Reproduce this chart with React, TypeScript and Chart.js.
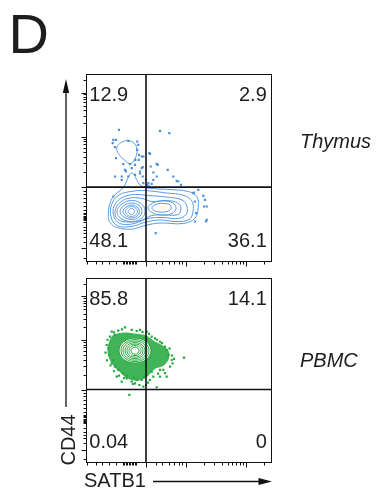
import React, { useEffect, useRef } from "react";
import { Chart, registerables } from "chart.js";

Chart.register(...registerables);

type Pt = [number, number];

// Transformed channel ranges (display units) shared by both panels
const X_MIN = 0;
const X_MAX = 185.5;
const Y_MIN = 0;
const Y_MAX = 187.5;

// Quadrant gate (SATB1 / CD44)
const gateSATB1 = 60;
const gateCD44 = 74.4;

// Quadrant frequencies (%): upper-left, upper-right, lower-left, lower-right
const thymusFreq = [12.9, 2.9, 48.1, 36.1];
const pbmcFreq = [85.8, 14.1, 0.04, 0];

const tissueNames = ["Thymus", "PBMC"];
const xAxisTitle = "SATB1";
const yAxisTitle = "CD44";
const panelLetter = "D";

// Axis tick positions
const satb1MajorTicks = [59.7, 99.7, 159.7];
const satb1MinorTicks = [
  1.3, 9.7, 16.3, 23, 29.7, 36.5, 38, 39.5, 41, 42.5, 44, 45.5, 47, 48.5, 50,
  69.7, 76.3, 83, 88, 93, 96.3, 117.7, 128.3, 135.8, 141.6, 146.4, 150.4, 153.9,
  157, 177.7,
];
const cd44MajorTicks = [13.4, 74.4, 125, 169];
const cd44MinorTicks = [
  3.5, 20, 25, 28.4, 31.7, 35, 40, 41.2, 42.4, 43.6, 44.8, 46, 47.2, 48.4, 52, 56,
  60, 64, 68, 71, 89.6, 98.5, 104.9, 109.8, 113.8, 117.2, 120.1, 122.7, 138.2,
  146, 151.5, 155.8, 159.2, 162.2, 164.7, 167, 182,
];

// Thymus: outlier events
const thymusEvents: Pt[] = [
  [33, 131.7], [27.3, 121.7], [26.7, 118.4], [29, 114.4], [30, 121.7], [42.3, 120.7],
  [51.3, 120], [52.3, 116.7], [51.3, 111.7], [53, 106.7], [52.7, 101.7], [49.3, 101.7],
  [30, 103.4], [74, 130.7], [83.3, 128.4], [63.3, 108.4], [71.7, 96.7], [64.7, 95],
  [56.7, 94.4], [54, 90], [45.7, 93.4], [39, 91.7], [35.7, 85], [29, 85], [42.3, 85],
  [49, 86.7], [56.7, 85], [60, 81.7], [61.3, 76.7], [57.3, 78.4], [67.3, 81.7],
  [70.7, 85], [81.7, 91.7], [87.3, 85], [90.7, 80.7], [63.3, 75], [27.3, 65],
  [112.3, 71.7], [107.3, 68.4], [117.3, 65.7], [119, 61.7], [109, 60], [120.7, 55],
  [110, 48.4], [120, 40], [109, 40], [69.7, 28.4], [44, 97.4], [37.3, 97.4],
  [55.7, 105], [64, 107.7], [70.7, 97.7], [67.3, 89], [92.3, 80], [95, 76.7],
  [108, 69], [118, 55], [120.7, 41.7], [62.3, 78.4], [65.7, 77.7], [40, 90],
  [35.7, 81.7], [49, 96.7], [55.7, 93.4], [57.3, 105], [54, 88],
];

// Thymus: density contours (closed loops)
const thymusContours: Pt[][] = [
  [[22.3, 45], [24, 58.4], [29, 66.7], [37.3, 74], [45.7, 88.4], [54, 76.7], [62.3, 73.4], [84, 72], [102.3, 70], [110.7, 65], [112.3, 55], [109, 43.4], [97.3, 38], [74, 38.5], [59, 36], [45.7, 32.4], [30.7, 34], [24, 39]],
  [[24.5, 48], [27, 60], [34, 67], [45, 70], [57.3, 71], [80.7, 68.5], [98, 66], [106, 60], [107, 50], [103, 42], [90, 40], [74, 41.5], [60, 39.5], [45, 35], [30, 36.5]],
  [[27, 50], [31, 60], [40, 65.5], [52, 67], [62, 66], [80, 64.5], [96, 61.5], [101, 55], [100, 47], [92, 43], [77, 44], [62, 43], [46, 37.5], [32, 39]],
  [[29, 50], [34, 59], [44, 63.5], [56, 63], [66, 60], [80, 61], [92, 58.5], [95, 53], [92, 47], [80, 46.5], [66, 46], [55, 41], [43, 39.5], [32, 42]],
  [[31, 50], [36, 57.5], [45.5, 61], [55, 58], [59, 51], [56, 43.5], [46, 40], [35, 43]],
  [[34, 50], [38, 56], [45.5, 58.5], [53, 56], [56, 50], [53, 44.5], [45.5, 42], [38, 44.5]],
  [[37, 50], [40, 54.5], [45.5, 56.5], [51, 54.5], [53.5, 50], [51, 45.5], [45.5, 43.5], [40, 45.5]],
  [[39.5, 50], [41.5, 53.5], [45.5, 55], [49.5, 53.5], [51.5, 50], [49.5, 46.5], [45.5, 45], [41.5, 46.5]],
  [[42, 50], [43.5, 52.3], [45.5, 53.2], [47.5, 52.3], [48.5, 50], [47.5, 47.7], [45.5, 46.8], [43.5, 47.7]],
  [[62, 54], [68, 59], [78, 60.5], [87, 58.5], [90, 53], [86, 48], [76, 46.5], [66, 49]],
  [[66, 54], [71, 57.5], [78, 58], [84, 56.5], [85, 52.5], [81, 50], [74, 49.5], [68, 51]],
  [[32.3, 116.7], [37.3, 120], [42.3, 121], [48, 118.4], [50.7, 113.4], [50, 105], [44.7, 97.7], [39, 101], [33.3, 106.7], [30.7, 112.4]],
];

// PBMC: outlier events
const pbmcEvents: Pt[] = [
  [25.7, 133.2], [39, 137.6], [24, 128.1], [20.7, 119.7], [23.3, 109.5], [25.7, 101.1],
  [29, 97.6], [32.3, 94.3], [37.3, 90.9], [40.7, 85.8], [45.7, 82.4], [49, 80.7],
  [53.3, 79], [55.7, 84.1], [60, 79], [64, 84.1], [70.7, 76.7], [67.3, 87.5], [74, 87.5],
  [80.7, 87.5], [77.3, 94.3], [84, 97.6], [85.7, 104.4], [98, 106.8], [80.7, 114.6],
  [74, 123], [69, 126.5], [60.7, 133.2], [54, 135], [45.7, 135], [32.3, 134.2],
  [43.3, 68.9], [30.7, 87.5], [35.7, 82.4], [22.3, 116.3], [27.3, 104.4], [40.7, 88.2],
  [65.7, 92.5], [74, 94.3], [82.3, 109.5], [79, 118], [65.7, 128.1], [50.7, 133.9],
  [29, 129.9], [57.3, 77.3], [50.7, 84.1], [19.5, 112], [21, 104], [24.5, 99],
  [28, 93], [33, 88.5], [38, 86], [47, 80], [62, 81.5], [72, 90.5], [79, 91],
  [86.5, 101], [86, 109], [83.5, 116], [76, 121.5], [71, 125], [63, 131], [56.5, 133],
  [36, 135.5], [28, 132.5], [21.5, 125], [88, 105.5], [58, 87], [48, 86.5],
];

// PBMC: dense event region surrounding the contours
const pbmcDenseRegion: Pt[] = [
  [21.5, 114.6], [23, 122.5], [26.5, 129], [32.3, 131.5], [40.7, 132.5], [50.7, 131],
  [60.7, 129.2], [68.5, 123.5], [76.5, 119.2], [83, 112.9], [82.5, 104.8], [76.8, 98.2],
  [68.5, 95], [60.5, 86.8], [52.3, 83.4], [42.5, 85], [34.5, 91.5], [28, 98],
  [23, 106.2],
];

// PBMC: density contours (closed loops, outermost first)
const pbmcContours: Pt[][] = [
  [[65, 114], [60.3, 123], [49, 126.7], [37.7, 123], [33, 114], [37.7, 105], [49, 101.3], [60.3, 105]],
  [[63, 114], [58.9, 121.9], [49, 125.2], [39.1, 121.9], [35, 114], [39.1, 106.1], [49, 102.8], [58.9, 106.1]],
  [[61, 114], [57.5, 120.9], [49, 123.7], [40.5, 120.9], [37, 114], [40.5, 107.1], [49, 104.3], [57.5, 107.1]],
  [[59, 114], [56.1, 119.7], [49, 122.1], [41.9, 119.7], [39, 114], [41.9, 108.3], [49, 105.9], [56.1, 108.3]],
  [[57, 114], [54.7, 118.7], [49, 120.6], [43.3, 118.7], [41, 114], [43.3, 109.3], [49, 107.4], [54.7, 109.3]],
  [[55, 114], [53.2, 117.6], [49, 119.1], [44.8, 117.6], [43, 114], [44.8, 110.4], [49, 108.9], [53.2, 110.4]],
  [[53, 114], [51.8, 116.5], [49, 117.6], [46.2, 116.5], [45, 114], [46.2, 111.5], [49, 110.4], [51.8, 111.5]],
];

const FONT = '"Liberation Sans", Arial, Helvetica, sans-serif';
const INK = "#1e1e1e";
const BLUE_DOT = "#4a8fd8";
const BLUE_LINE = "#5a9ade";
const GREEN = "#22a83c";

type Fill = { region: Pt[]; color: string };
type PanelSpec = {
  name: string;
  freq: number[];
  events: Pt[];
  contours: Pt[][];
  fills: Fill[];
  dotColor: string;
  lineColor: string;
  padding: { left: number; top: number; right: number; bottom: number };
  nameOffset: number;
  axisTitles: boolean;
};

function traceClosed(ctx: CanvasRenderingContext2D, pts: number[][]) {
  const n = pts.length;
  ctx.beginPath();
  ctx.moveTo(pts[0][0], pts[0][1]);
  for (let i = 0; i < n; i++) {
    const p0 = pts[(i - 1 + n) % n];
    const p1 = pts[i];
    const p2 = pts[(i + 1) % n];
    const p3 = pts[(i + 2) % n];
    ctx.bezierCurveTo(
      p1[0] + (p2[0] - p0[0]) / 6,
      p1[1] + (p2[1] - p0[1]) / 6,
      p2[0] - (p3[0] - p1[0]) / 6,
      p2[1] - (p3[1] - p1[1]) / 6,
      p2[0],
      p2[1]
    );
  }
  ctx.closePath();
}

// A closed loop as an open line: wrap one point on each side so the spline is smooth at the seam,
// then hide the two wrap segments.
function contourDataset(loop: Pt[], color: string) {
  const n = loop.length;
  const seq = [loop[n - 1], ...loop, loop[0], loop[1]];
  return {
    data: seq.map(([x, y]) => ({ x, y })),
    showLine: true,
    borderColor: color,
    borderWidth: 1,
    pointRadius: 0,
    tension: 0.4,
    order: 2,
    segment: {
      borderColor: (c: any) =>
        c.p0DataIndex === 0 || c.p0DataIndex === n + 1 ? "rgba(0,0,0,0)" : undefined,
    },
  };
}

function panelPlugin(p: PanelSpec) {
  return {
    id: "panel" + p.name,
    beforeDatasetsDraw(chart: any) {
      const { ctx, chartArea: a, scales } = chart;
      const toPx = (pt: Pt) => [scales.x.getPixelForValue(pt[0]), scales.y.getPixelForValue(pt[1])];
      ctx.save();
      ctx.beginPath();
      ctx.rect(a.left, a.top, a.right - a.left, a.bottom - a.top);
      ctx.clip();
      for (const f of p.fills) {
        traceClosed(ctx, f.region.map(toPx));
        ctx.fillStyle = f.color;
        ctx.fill();
      }
      ctx.restore();
    },
    afterDraw(chart: any) {
      const { ctx, chartArea: a, scales } = chart;
      ctx.save();
      // frame
      const L = Math.round(a.left) + 0.5;
      const R = Math.round(a.right) - 0.5;
      const T = Math.round(a.top) + 0.5;
      const B = Math.round(a.bottom) - 0.5;
      ctx.strokeStyle = "#111";
      ctx.lineWidth = 1;
      ctx.strokeRect(L, T, R - L, B - T);

      // axis ticks
      ctx.beginPath();
      const yTick = (v: number, len: number) => {
        const y = Math.round(scales.y.getPixelForValue(v)) + 0.5;
        ctx.moveTo(L, y);
        ctx.lineTo(L - len, y);
      };
      const xTick = (v: number, len: number) => {
        const x = Math.round(scales.x.getPixelForValue(v)) + 0.5;
        ctx.moveTo(x, B);
        ctx.lineTo(x, B + len);
      };
      cd44MajorTicks.forEach((v) => yTick(v, 5));
      cd44MinorTicks.forEach((v) => yTick(v, 3));
      satb1MajorTicks.forEach((v) => xTick(v, 5));
      satb1MinorTicks.forEach((v) => xTick(v, 3));
      ctx.stroke();

      // quadrant frequencies
      ctx.fillStyle = INK;
      ctx.font = `20px ${FONT}`;
      ctx.textBaseline = "alphabetic";
      ctx.textAlign = "left";
      ctx.fillText(String(p.freq[0]), a.left + 3.3, a.top + 26.5);
      ctx.fillText(String(p.freq[2]), a.left + 3.3, a.bottom - 14.8);
      ctx.textAlign = "right";
      ctx.fillText(String(p.freq[1]), a.right - 4.7, a.top + 26.5);
      ctx.fillText(String(p.freq[3]), a.right - 4.7, a.bottom - 14.8);

      // tissue name
      ctx.textAlign = "left";
      ctx.font = `italic 20px ${FONT}`;
      ctx.fillText(p.name, a.right + 28.5, a.top + p.nameOffset);

      if (p.axisTitles) {
        ctx.strokeStyle = "#111";
        ctx.fillStyle = "#111";
        ctx.lineWidth = 1.3;
        // CD44 arrow
        const ax = a.left - 20;
        ctx.beginPath();
        ctx.moveTo(ax, 407);
        ctx.lineTo(ax, 90);
        ctx.stroke();
        ctx.beginPath();
        ctx.moveTo(ax, 79);
        ctx.lineTo(ax - 3.2, 93);
        ctx.lineTo(ax + 3.2, 93);
        ctx.closePath();
        ctx.fill();
        // SATB1 arrow
        const ay = 481.5;
        ctx.beginPath();
        ctx.moveTo(153, ay);
        ctx.lineTo(262, ay);
        ctx.stroke();
        ctx.beginPath();
        ctx.moveTo(272, ay);
        ctx.lineTo(258.5, ay - 3.5);
        ctx.lineTo(258.5, ay + 3.5);
        ctx.closePath();
        ctx.fill();

        ctx.fillStyle = INK;
        ctx.font = `20px ${FONT}`;
        ctx.textAlign = "left";
        ctx.fillText(xAxisTitle, 84, 486.7);
        ctx.save();
        ctx.translate(75, 440);
        ctx.rotate(-Math.PI / 2);
        ctx.textAlign = "center";
        ctx.fillText(yAxisTitle, 0, 0);
        ctx.restore();

        ctx.font = `56px ${FONT}`;
        ctx.textAlign = "left";
        ctx.fillText(panelLetter, 8.5, 52.5);
      }
      ctx.restore();
    },
  };
}

function buildChart(canvas: HTMLCanvasElement, p: PanelSpec) {
  const datasets: any[] = [
    {
      data: [
        { x: gateSATB1, y: Y_MIN },
        { x: gateSATB1, y: Y_MAX },
      ],
      showLine: true,
      borderColor: "#111",
      borderWidth: 1.6,
      pointRadius: 0,
      order: 0,
    },
    {
      data: [
        { x: X_MIN, y: gateCD44 },
        { x: X_MAX, y: gateCD44 },
      ],
      showLine: true,
      borderColor: "#111",
      borderWidth: 1.6,
      pointRadius: 0,
      order: 0,
    },
    {
      data: p.events.map(([x, y]) => ({ x, y })),
      pointStyle: "rect",
      pointRadius: 1.55,
      borderWidth: 0,
      backgroundColor: p.dotColor,
      order: 1,
    },
    ...p.contours.map((c) => contourDataset(c, p.lineColor)),
  ];
  return new Chart(canvas, {
    type: "scatter",
    data: { datasets },
    options: {
      responsive: false,
      animation: false,
      devicePixelRatio: 1,
      events: [],
      layout: { padding: p.padding },
      plugins: { legend: { display: false }, tooltip: { enabled: false } },
      scales: {
        x: { type: "linear", min: X_MIN, max: X_MAX, display: false },
        y: { type: "linear", min: Y_MIN, max: Y_MAX, display: false },
      },
    },
    plugins: [panelPlugin(p)],
  } as any);
}

const thymusPanel: PanelSpec = {
  name: tissueNames[0],
  freq: thymusFreq,
  events: thymusEvents,
  contours: thymusContours,
  fills: [],
  dotColor: BLUE_DOT,
  lineColor: BLUE_LINE,
  padding: { left: 86, top: 74, right: 105.5, bottom: 229.5 },
  nameOffset: 73.5,
  axisTitles: false,
};

const pbmcPanel: PanelSpec = {
  name: tissueNames[1],
  freq: pbmcFreq,
  events: pbmcEvents,
  contours: pbmcContours,
  fills: [
    { region: pbmcDenseRegion, color: "rgba(34,168,60,0.86)" },
    { region: pbmcContours[0], color: "#ffffff" },
  ],
  dotColor: GREEN,
  lineColor: GREEN,
  padding: { left: 86, top: 278.3, right: 105.5, bottom: 28.3 },
  nameOffset: 88.7,
  axisTitles: true,
};

export default function App() {
  const topRef = useRef<HTMLCanvasElement>(null);
  const bottomRef = useRef<HTMLCanvasElement>(null);

  useEffect(() => {
    const charts = [buildChart(topRef.current!, thymusPanel), buildChart(bottomRef.current!, pbmcPanel)];
    return () => charts.forEach((c) => c.destroy());
  }, []);

  const canvasStyle: React.CSSProperties = { position: "absolute", left: 0, top: 0, width: 377, height: 491 };
  return (
    <div style={{ position: "absolute", left: 0, top: 0, width: 377, height: 491, background: "#fff", overflow: "hidden" }}>
      <canvas ref={topRef} width={377} height={491} style={canvasStyle} />
      <canvas ref={bottomRef} width={377} height={491} style={canvasStyle} />
    </div>
  );
}
